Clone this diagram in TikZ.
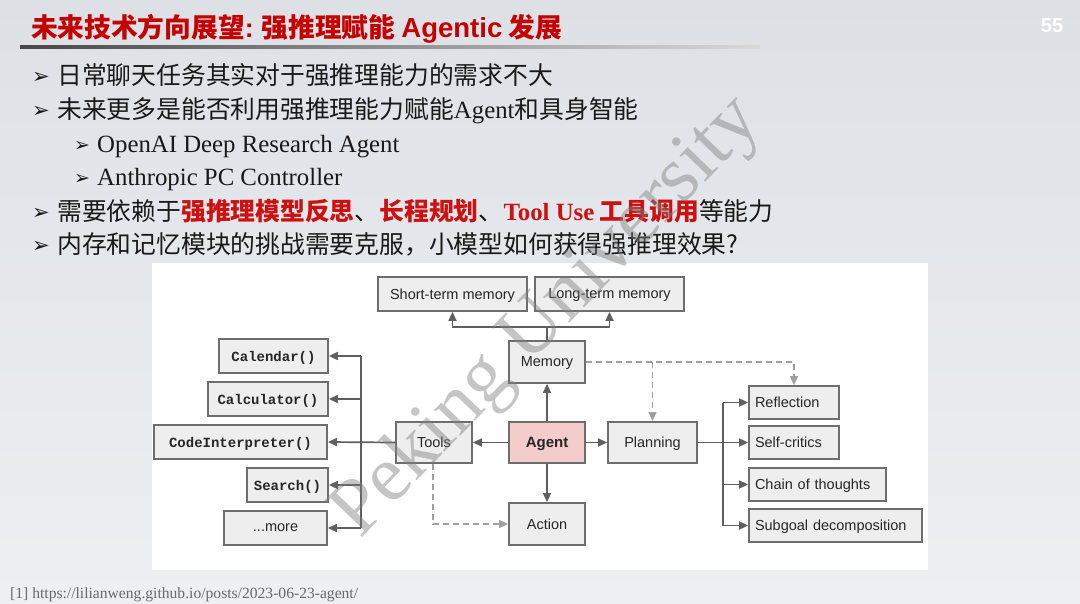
\documentclass[tikz,border=0pt]{standalone}
\usepackage{fontspec}
\setmainfont{Liberation Serif}
\setsansfont{Liberation Sans}
\setmonofont{Liberation Mono}
\newfontfamily\cjk{Noto Sans CJK SC}
\newfontfamily\dejavu{DejaVu Sans}
\usetikzlibrary{arrows.meta}
\definecolor{titlered}{RGB}{196,0,0}
\definecolor{hlred}{RGB}{205,16,16}
\definecolor{arrowc}{RGB}{95,95,95}
\definecolor{boxline}{RGB}{110,110,110}
\definecolor{boxfill}{RGB}{238,238,238}
\definecolor{agentfill}{RGB}{244,204,204}
\definecolor{dashc}{RGB}{160,160,160}
\definecolor{bgtop}{RGB}{221,225,230}
\definecolor{bgbot}{RGB}{238,239,241}
\definecolor{txt}{RGB}{25,25,25}
\definecolor{foot}{RGB}{105,105,105}
\tikzset{
  box/.style={draw=boxline, fill=boxfill, line width=1.8pt, inner sep=0pt, text depth=0pt,
    font=\sffamily\fontsize{14.5}{17}\selectfont, text=black!85},
  monobox/.style={box, font=\ttfamily\bfseries\fontsize{14}{16}\selectfont},
  lbox/.style={box, align=left, inner xsep=6pt},
  ln/.style={draw=arrowc, line width=1.7pt},
  arr/.style={ln, -{Triangle[length=9pt,width=8pt]}},
  darr/.style={draw=dashc, line width=1.6pt, dash pattern=on 6pt off 4pt,
    -{Triangle[length=9pt,width=8pt]}},
  bul/.style={anchor=base west, inner sep=0pt, text=txt},
}
\newcommand{\bigtxt}{\fontsize{24.8}{28}\selectfont}
\newcommand{\bulglyph}{\dejavu\fontsize{21}{22}\selectfont ➢}
\newcommand{\subglyph}{\dejavu\fontsize{19}{20}\selectfont ➢}
\begin{document}
\begin{tikzpicture}[x=1pt,y=-1pt]
\useasboundingbox (0,0) rectangle (1080,603);
\shade[top color=bgtop, bottom color=bgbot] (0,0) rectangle (1080,603);
% title
\node[anchor=base west, inner sep=0pt, text=titlered] (title) at (31,37)
  {\cjk\bfseries\fontsize{26.7}{28}\selectfont 未来技术方向展望{\sffamily\bfseries:} 强推理赋能 {\sffamily\bfseries\fontsize{27.5}{28}\selectfont Agentic} 发展};
\shade[left color=black!72, right color=black!15] (20,45) rectangle (760,48.5);
\node[text=white, font=\sffamily\bfseries\fontsize{20}{22}\selectfont, inner sep=0pt] (pg) at (1052,26) {55};
% bullets
\node[bul] (b1) at (32,83) {\bulglyph};
\node[bul] (t1) at (57,84) {\cjk\bigtxt 日常聊天任务其实对于强推理能力的需求不大};
\node[bul] (b2) at (32,117) {\bulglyph};
\node[bul] (t2) at (57,118) {\cjk\bigtxt 未来更多是能否利用强推理能力赋能{\rmfamily Agent}和具身智能};
\node[bul] (b3) at (74,151) {\subglyph};
\node[bul] (t3) at (97,152) {\rmfamily\bigtxt OpenAI Deep Research Agent};
\node[bul] (b4) at (74,184) {\subglyph};
\node[bul] (t4) at (97,185) {\rmfamily\bigtxt Anthropic PC Controller};
\node[bul] (b5) at (32,219) {\bulglyph};
\node[bul] (t5) at (57,220) {\cjk\bigtxt 需要依赖于{\bfseries\color{hlred}强推理模型反思}、{\bfseries\color{hlred}长程规划}、{\rmfamily\bfseries\color{hlred}Tool Use} {\bfseries\color{hlred}工具调用}等能力};
\node[bul] (b6) at (32,252) {\bulglyph};
\node[bul] (t6) at (57,253) {\cjk\bigtxt 内存和记忆模块的挑战需要克服，小模型如何获得强推理效果?};
% diagram panel
\fill[white] (152,263) rectangle (928,570);
% nodes
\node[box, minimum width=149pt, minimum height=34pt] (st) at (452.5,294) {Short-term memory};
\node[box, minimum width=149pt, minimum height=34pt] (lt) at (609.5,294) {Long-term memory};
\node[box, minimum width=76pt, minimum height=42pt] (mem) at (547,362) {Memory};
\node[monobox, minimum width=109pt, minimum height=34pt] (cal) at (273.5,356) {Calendar()};
\node[monobox, minimum width=120pt, minimum height=34pt] (calc) at (268,399) {Calculator()};
\node[monobox, minimum width=173pt, minimum height=34pt] (code) at (240.5,442) {CodeInterpreter()};
\node[monobox, minimum width=81pt, minimum height=34pt] (search) at (287.5,485) {Search()};
\node[box, minimum width=103pt, minimum height=34pt] (more) at (275.5,528) {...more};
\node[box, minimum width=76pt, minimum height=41pt] (tools) at (434,442.5) {Tools};
\node[box, fill=agentfill, minimum width=76pt, minimum height=41pt, font=\sffamily\bfseries\fontsize{15}{17}\selectfont] (agent) at (547,442.5) {Agent};
\node[box, minimum width=89pt, minimum height=41pt] (plan) at (652.5,442.5) {Planning};
\node[box, minimum width=76pt, minimum height=42pt] (action) at (547,524) {Action};
\node[lbox, text width=78pt, minimum height=33pt] (refl) at (794,402.5) {Reflection};
\node[lbox, text width=78pt, minimum height=33pt] (selfc) at (794,442.5) {Self-critics};
\node[lbox, text width=125pt, minimum height=33pt] (chain) at (817.5,484.5) {Chain of thoughts};
\node[lbox, text width=161pt, minimum height=33pt] (sub) at (835.5,525.5) {Subgoal decomposition};
% connectors
\coordinate (mj) at (547,327);
\draw[ln] (mem.north) -- (mj);
\draw[arr] (mj) -| (st.south);
\draw[arr] (mj) -| (lt.south);
\draw[arr] (agent.north) -- (mem.south);
\draw[arr] (agent.west) -- (tools.east);
\draw[arr] (agent.east) -- (plan.west);
\draw[arr] (agent.south) -- (action.north);
% tools bus
\coordinate (bt) at (361,356);
\coordinate (bb) at (361,528);
\draw[ln] (bt) -- (bb);
\draw[arr] (tools.west) -- (code.east);
\draw[arr] (bt) -- (cal.east);
\draw[arr] (calc.east -| bt) -- (calc.east);
\draw[arr] (search.east -| bt) -- (search.east);
\draw[arr] (bb) -- (more.east);
% dashed
\draw[darr] ([xshift=-1pt]tools.south) |- (action.west);
\draw[darr] (mem.east) -| (refl.north);
\draw[darr] (mem.east -| plan.north) -- (plan.north);
% planning bus
\coordinate (pt) at (723,402.5);
\coordinate (pbm) at (723,525.5);
\draw[ln] (pt) -- (pbm);
\draw[arr] (plan.east) -- (selfc.west);
\draw[arr] (pt) -- (refl.west);
\draw[arr] (chain.west -| pt) -- (chain.west);
\draw[arr] (pbm) -- (sub.west);
% footer
\node[anchor=base west, inner sep=0pt, text=foot, font=\rmfamily\fontsize{15.6}{17}\selectfont] (ft) at (10,598) {[1] https://lilianweng.github.io/posts/2023-06-23-agent/};
% watermark
\node[rotate=46, text=black!50, text opacity=0.45, inner sep=0pt, font=\rmfamily\fontsize{80}{80}\selectfont] (wm) at (548,318) {Peking University};
\end{tikzpicture}
\end{document}
